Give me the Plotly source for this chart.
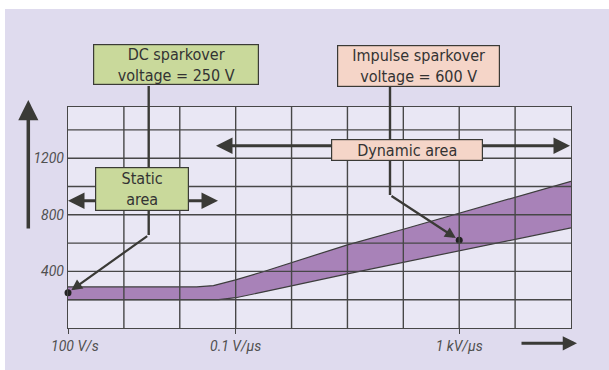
import numpy as np
import plotly.graph_objects as go

# rate of rise (V/us) on a log axis, sparkover voltage (V)
upper_rate = [1e-4, 0.02, 0.04, 0.1, 0.3, 10, 100, 1000, 1e5]
upper_volt = [290, 290, 300, 340, 396, 588, 698, 811, 1037]
lower_rate = [1e-4, 0.05, 0.1, 0.3, 10, 100, 1000, 1e5]
lower_volt = [200, 200, 214, 253, 383, 465, 548, 708]

dc_rate, dc_volt = 1e-4, 250
imp_rate, imp_volt = 1000, 620

x_tickvals = [1e-4, 0.1, 1000]
x_ticktext = ["\u00a0\u00a0\u00a0\u00a0100 V/s", "0.1 V/\u00b5s", "1 kV/\u00b5s"]
y_tickvals = [400, 800, 1200]
y_grid = [200, 400, 600, 800, 1000, 1200, 1400]
decades = [1e-3, 1e-2, 1e-1, 1, 10, 100, 1000, 1e4]

W, H = 609, 370
# plot area in pixels
L, R, T, B = 68, 571, 107, 328
INK = "#3a3a36"
GRID = "#474747"
BOX_FONT = dict(family="Liberation Sans Narrow, DejaVu Sans Condensed, Roboto Condensed, Roboto, sans-serif",
                size=16, color="#333333")


def px(x):
    return (x - L) / (R - L)


def py(y):
    return (B - y) / (B - T)


fig = go.Figure()
fig.add_trace(go.Scatter(x=lower_rate, y=lower_volt, mode="lines",
                         line=dict(color="#3d3d3d", width=1.2), hoverinfo="skip"))
fig.add_trace(go.Scatter(x=upper_rate, y=upper_volt, mode="lines", fill="tonexty",
                         fillcolor="#a882b8", line=dict(color="#3d3d3d", width=1.2), hoverinfo="skip"))

# grid drawn over the band, like the original
for v in y_grid:
    fig.add_hline(y=v, line=dict(color=GRID, width=1.4), layer="above")
for d in decades:
    fig.add_vline(x=d, line=dict(color=GRID, width=1.4), layer="above")

fig.add_trace(go.Scatter(x=[dc_rate, imp_rate], y=[dc_volt, imp_volt], mode="markers",
                         marker=dict(color="#222222", size=7), cliponaxis=False, hoverinfo="skip"))

# thin white border along the top and left of the lavender panel
fig.add_shape(type="rect", xref="paper", yref="paper", x0=px(0), x1=px(W), y0=py(0), y1=py(9),
              fillcolor="white", line_width=0, layer="below")
fig.add_shape(type="rect", xref="paper", yref="paper", x0=px(0), x1=px(5), y0=py(0), y1=py(H),
              fillcolor="white", line_width=0, layer="below")

# callout connectors
for x0, y0, y1 in ((148.7, 86, 235), (390, 87, 195)):
    fig.add_shape(type="line", xref="paper", yref="paper", x0=px(x0), x1=px(x0), y0=py(y0), y1=py(y1),
                  line=dict(color=INK, width=2.4), layer="above")


def arrow(tip, tail, width=3, size=1.1):
    fig.add_annotation(xref="paper", yref="paper", x=px(tip[0]), y=py(tip[1]),
                       axref="pixel", ayref="pixel", ax=tail[0] - tip[0], ay=tail[1] - tip[1],
                       text="", showarrow=True, arrowhead=2, arrowsize=size, arrowwidth=width,
                       arrowcolor=INK)


arrow((28.3, 100), (28.3, 230), width=3.5, size=1.15)
arrow((577, 343.3), (520, 343.3), width=3, size=0.95)
arrow((68, 200.7), (130, 200.7))
arrow((218, 200.7), (160, 200.7))
arrow((216, 145.7), (360, 145.7))
arrow((570, 145.7), (450, 145.7))

# pointer arrows to the two sparkover points
y_per_px = 1562 / (B - T)
for rate, volt, bend in ((dc_rate, dc_volt, (148.7, 235)), (imp_rate, imp_volt, (390, 195))):
    tip_x = L + (np.log10(rate) + 4) / 9 * (R - L)
    tip_y = B - volt / y_per_px
    fig.add_annotation(x=np.log10(rate), y=volt, xref="x", yref="y",
                       axref="pixel", ayref="pixel", ax=bend[0] - tip_x, ay=bend[1] - tip_y,
                       text="", showarrow=True, arrowhead=2, arrowsize=1, arrowwidth=2.2,
                       arrowcolor=INK, standoff=4)


def box(cx, cy, w, h, text, color):
    fig.add_annotation(xref="paper", yref="paper", x=px(cx), y=py(cy), xanchor="center", yanchor="middle",
                       text=text, showarrow=False, width=w - 2, height=h - 2, bgcolor=color,
                       bordercolor=INK, borderwidth=1.2, borderpad=0, font=BOX_FONT, align="center")


box(175.5, 64.7, 166, 41, "DC sparkover<br>voltage = 250 V", "#c9d99b")
box(418.7, 65.8, 163, 42, "Impulse sparkover<br>voltage = 600 V", "#f5d5c8")
box(141.5, 188.5, 94, 44, "Static<br>area", "#c9d99b")
box(407.2, 150, 152, 22, "Dynamic area", "#f5d5c8")

tick_font = dict(family="Roboto, sans-serif", size=14, color="#505050", style="italic")
fig.update_xaxes(type="log", range=[-4, 5], tickvals=x_tickvals, ticktext=x_ticktext,
                 showgrid=False, zeroline=False, showline=True, mirror=True,
                 linecolor=GRID, linewidth=1.4, ticks="outside", ticklen=5,
                 tickcolor=GRID, tickwidth=1.4, tickfont=tick_font)
fig.update_yaxes(range=[0, 1562], tickvals=y_tickvals, showgrid=False, zeroline=False,
                 showline=True, mirror=True, linecolor=GRID, linewidth=1.4,
                 ticks="", tickfont=tick_font)
fig.update_layout(
    width=W, height=H,
    margin=dict(l=L, r=W - R, t=T, b=H - B),
    paper_bgcolor="#dfdbee",
    plot_bgcolor="#e9e7f4",
    showlegend=False,
)
fig.write_html("out.html", config={"displayModeBar": False},
               post_script="document.body.style.margin='0';document.body.style.overflow='hidden';")
